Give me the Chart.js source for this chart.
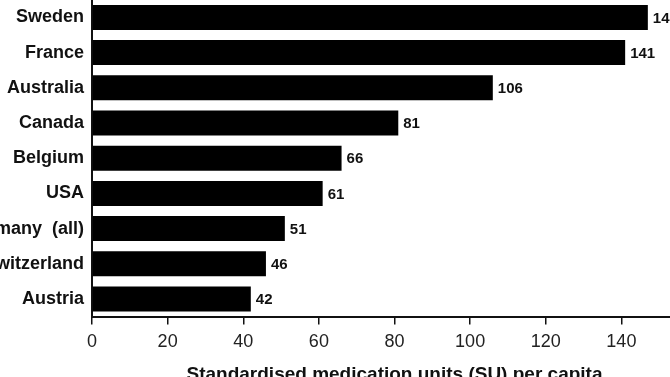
<!DOCTYPE html>
<html>
<head>
<meta charset="utf-8">
<script src="https://cdn.jsdelivr.net/npm/chart.js@4"></script>
<style>
  html, body { margin: 0; padding: 0; width: 670px; height: 377px; overflow: hidden; background: #fff; }
  #wrap { position: absolute; left: -100px; top: -19px; width: 830px; height: 419px; }
</style>
</head>
<body>
<div id="wrap"><canvas id="c" width="830" height="419"></canvas></div>
<script>
const categories = ["Sweden", "France", "Australia", "Canada", "Belgium", "USA", "Germany  (all)", "Switzerland", "Austria"];
const suPerCapita = [147, 141, 106, 81, 66, 61, 51, 46, 42];
const xTicks = [0, 20, 40, 60, 80, 100, 120, 140, 160];
const axisTitle = "Standardised medication units (SU) per capita";

const FONT = "'Liberation Sans', Arial, Helvetica, sans-serif";

const valueLabels = {
  id: 'valueLabels',
  afterDatasetsDraw(chart) {
    const ctx = chart.ctx;
    const meta = chart.getDatasetMeta(0);
    ctx.save();
    ctx.font = "bold 15px " + FONT;
    ctx.fillStyle = "#111";
    ctx.textAlign = "left";
    ctx.textBaseline = "middle";
    meta.data.forEach((bar, i) => {
      ctx.fillText(String(suPerCapita[i]), bar.x + 5, bar.y + 1);
    });
    ctx.restore();
  }
};

new Chart(document.getElementById('c'), {
  type: 'bar',
  data: {
    labels: categories,
    datasets: [{
      data: suPerCapita,
      backgroundColor: '#000',
      borderWidth: 0,
      barPercentage: 0.71,
      categoryPercentage: 1.0
    }]
  },
  options: {
    indexAxis: 'y',
    responsive: false,
    animation: false,
    devicePixelRatio: 1,
    layout: { padding: { left: 0, right: 33, top: 0, bottom: 0 } },
    plugins: { legend: { display: false }, tooltip: { enabled: false } },
    scales: {
      x: {
        min: 0, max: 160,
        afterBuildTicks(scale) { scale.ticks = xTicks.map(v => ({ value: v })); },
        afterFit(scale) { scale.height = 83.4; },
        grid: { display: true, drawOnChartArea: false, drawTicks: true, tickLength: 8, color: '#111', lineWidth: 1.5 },
        border: { display: true, color: '#111', width: 2 },
        ticks: { color: '#222', padding: 7, font: { family: FONT, size: 18 } },
        title: {
          display: true, text: axisTitle, color: '#111',
          font: { family: FONT, size: 19, weight: 'bold' },
          padding: { top: 4, bottom: 13.6 }
        }
      },
      y: {
        afterFit(scale) { scale.width = 192; },
        grid: { display: false, drawTicks: false },
        border: { display: true, color: '#111', width: 2 },
        ticks: { color: '#111', padding: 8, font: { family: FONT, size: 18, weight: 'bold' } }
      }
    }
  },
  plugins: [valueLabels]
});
</script>
</body>
</html>
